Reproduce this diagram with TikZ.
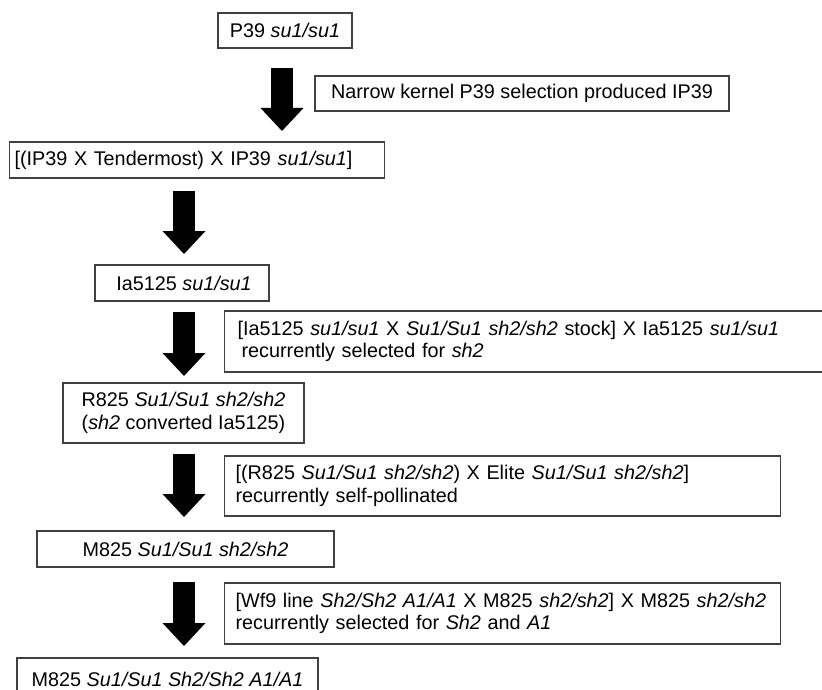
\documentclass[tikz,border=0pt]{standalone}
\usepackage{fontspec}
\setmainfont{Liberation Sans}
\usetikzlibrary{arrows.meta}
\tikzset{
  box/.style={draw=black!75, line width=1.2pt, fill=white, inner ysep=0pt,
    font=\fontsize{19.8}{22.5}\selectfont},
  cbox/.style={box, align=center, inner xsep=0pt},
  lbox/.style={box, align=left, anchor=west},
  blockarrow/.style={line width=21.5pt, draw=black,
    -{Triangle[length=23pt,width=43pt,line width=0pt]}}
}
\begin{document}
\begin{tikzpicture}[x=1pt,y=-1pt]
\useasboundingbox (0,0) rectangle (822,690);
% boxes
\node[cbox, minimum width=134pt, minimum height=35pt] (b1) at (285,30.5) {P39 \textit{su1/su1}};
\node[cbox, minimum width=414pt, minimum height=35pt] (b2) at (522,93.5) {Narrow kernel P39 selection produced IP39};
\node[lbox, inner xsep=5pt, text width=365pt, minimum height=36pt] (b3) at (9,160) {[(IP39 X Tendermost) X IP39 \textit{su1/su1}]};
\node[cbox, minimum width=174pt, minimum height=36pt] (b4) at (182,283) {\hspace{4pt}Ia5125 \textit{su1/su1}};
\node[lbox, inner xsep=13pt, text width=574pt, minimum height=61pt] (b5) at (224,341.5) {[Ia5125 \textit{su1/su1} X \textit{Su1/Su1 sh2/sh2} stock] X Ia5125 \textit{su1/su1}\\\hspace{4pt}recurrently selected for \textit{sh2}};
\node[cbox, minimum width=241pt, minimum height=60pt] (b6) at (183.5,413) {R825 \textit{Su1/Su1 sh2/sh2}\\(\textit{sh2} converted Ia5125)};
\node[lbox, inner xsep=11pt, text width=534pt, minimum height=60pt] (b7) at (224,486) {[(R825 \textit{Su1/Su1 sh2/sh2}) X Elite \textit{Su1/Su1 sh2/sh2}]\\recurrently self-pollinated};
\node[cbox, minimum width=297pt, minimum height=36pt] (b8) at (185.5,549) {M825 \textit{Su1/Su1 sh2/sh2}};
\node[lbox, inner xsep=11pt, text width=534pt, minimum height=61pt] (b9) at (224,613.5) {[Wf9 line \textit{Sh2/Sh2 A1/A1} X M825 \textit{sh2/sh2}] X M825 \textit{sh2/sh2}\\recurrently selected for \textit{Sh2} and \textit{A1}};
\node[cbox, minimum width=301pt, minimum height=42pt] (b10) at (167.5,679) {M825 \textit{Su1/Su1 Sh2/Sh2 A1/A1}};
% arrow end points
\coordinate (a1s) at (282,68);  \coordinate (a1e) at (282,131);
\coordinate (a2s) at (184,191); \coordinate (a2e) at (184,254);
\coordinate (a3s) at (184,312); \coordinate (a3e) at (184,376);
\coordinate (a4s) at (184,454); \coordinate (a4e) at (184,517);
\coordinate (a5s) at (184,582); \coordinate (a5e) at (184,646);
\draw[blockarrow] (a1s) -- (a1e);
\draw[blockarrow] (a2s) -- (a2e);
\draw[blockarrow] (a3s) -- (a3e);
\draw[blockarrow] (a4s) -- (a4e);
\draw[blockarrow] (a5s) -- (a5e);
\end{tikzpicture}
\end{document}
